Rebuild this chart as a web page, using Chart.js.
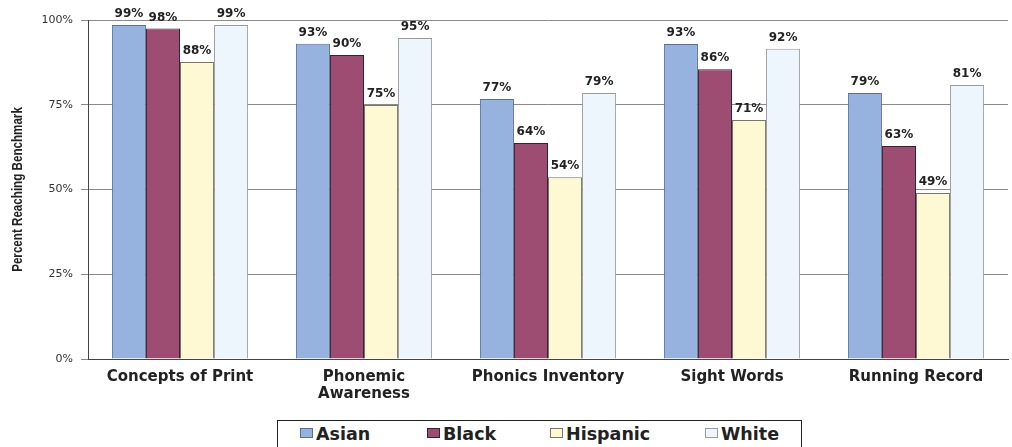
<!DOCTYPE html>
<html>
<head>
<meta charset="utf-8">
<script src="https://cdn.jsdelivr.net/npm/chart.js@4"></script>
<style>
  body { margin: 0; background: #fff; }
  #wrap { position: relative; width: 1012px; height: 447px; }
  #legend {
    position: absolute; left: 277px; top: 420px; width: 525px; height: 30px;
    border: 1px solid #222; box-sizing: border-box; background: #fff;
    font: bold 17.5px "DejaVu Sans", sans-serif; color: #222;
  }
  #legend span.item { position: absolute; top: 3px; white-space: nowrap; }
  #legend span.sw { display: inline-block; width: 11px; height: 8px; border: 1px solid #333; margin-right: 3px; vertical-align: 2px; }
</style>
</head>
<body>
<div id="wrap">
  <canvas id="myChart" width="1012" height="447"></canvas>
  <div id="legend"></div>
</div>
<script>
// chart data
const categories = ['Concepts of Print', ['Phonemic', 'Awareness'], 'Phonics Inventory', 'Sight Words', 'Running Record'];
const seriesNames = ['Asian', 'Black', 'Hispanic', 'White'];
const asian = [98.5, 93.0, 76.7, 92.9, 78.5];
const black = [97.5, 89.7, 63.7, 85.5, 62.8];
const hispanic = [87.6, 74.9, 53.6, 70.5, 49.0];
const white = [98.5, 94.7, 78.5, 91.5, 80.8];
const yTicks = [0, 25, 50, 75, 100];
const yTitle = 'Percent Reaching Benchmark';

const fills = ['#95b3de', '#9e4d72', '#fef9d3', '#eef6fd'];
const borders = ['#5b6f96', '#3d1f2e', '#77766a', '#9a9a9a'];
const allSeries = [asian, black, hispanic, white];

// draws the % value over each bar, plus the narrow y title
const barLabels = {
    id: 'barLabels',
    afterDatasetsDraw(chart) {
        const ctx = chart.ctx;
        ctx.save();
        ctx.font = 'bold 12px "DejaVu Sans", sans-serif';
        ctx.fillStyle = '#222';
        ctx.textAlign = 'center';
        ctx.textBaseline = 'bottom';
        chart.data.datasets.forEach(function (ds, i) {
            chart.getDatasetMeta(i).data.forEach(function (bar, j) {
                ctx.fillText(Math.round(ds.data[j]) + '%', bar.x, bar.y - 5);
            });
        });
        ctx.restore();

        // condensed axis title
        const area = chart.chartArea;
        ctx.save();
        ctx.translate(18, (area.top + area.bottom) / 2);
        ctx.rotate(-Math.PI / 2);
        ctx.scale(0.83, 1);
        ctx.font = 'bold 14px "Liberation Sans", Arial, sans-serif';
        ctx.fillStyle = '#222';
        ctx.textAlign = 'center';
        ctx.textBaseline = 'middle';
        ctx.fillText(yTitle, 0, 0);
        ctx.restore();
    }
};

const ctx = document.getElementById('myChart').getContext('2d');
const myChart = new Chart(ctx, {
    type: 'bar',
    data: {
        labels: categories,
        datasets: seriesNames.map(function (name, i) {
            return {
                label: name,
                data: allSeries[i],
                backgroundColor: fills[i],
                borderColor: borders[i],
                borderWidth: 1,
                categoryPercentage: 0.74,
                barPercentage: 1
            };
        })
    },
    options: {
        responsive: false,
        animation: false,
        layout: { padding: { top: 20, right: 4, left: 0, bottom: 0 } },
        plugins: {
            legend: { display: false },
            tooltip: { enabled: false }
        },
        scales: {
            x: {
                grid: { display: false, drawTicks: false },
                border: { color: '#444' },
                ticks: {
                    color: '#222',
                    padding: 10,
                    maxRotation: 0,
                    autoSkip: false,
                    font: { family: '"DejaVu Sans", sans-serif', size: 15, weight: 'bold', lineHeight: 1.1 }
                },
                afterFit: function (scale) { scale.height = 88; }
            },
            y: {
                min: 0,
                max: 100,
                afterBuildTicks: function (scale) {
                    scale.ticks = yTicks.map(function (v) { return { value: v }; });
                },
                grid: { color: '#8a8a8a', tickLength: 7 },
                border: { color: '#444' },
                ticks: {
                    color: '#333',
                    padding: 8,
                    font: { family: '"DejaVu Sans", sans-serif', size: 11 },
                    callback: function (v) { return v + '%'; }
                },
                afterFit: function (scale) { scale.width = 88; }
            }
        }
    },
    plugins: [barLabels]
});

// legend below the chart
const legendPos = [22, 149, 272, 427];
const legend = document.getElementById('legend');
seriesNames.forEach(function (name, i) {
    const item = document.createElement('span');
    item.className = 'item';
    item.style.left = legendPos[i] + 'px';
    item.innerHTML = '<span class="sw" style="background:' + fills[i] + ';border-color:' + borders[i] + '"></span>' + name;
    legend.appendChild(item);
});
</script>
</body>
</html>
